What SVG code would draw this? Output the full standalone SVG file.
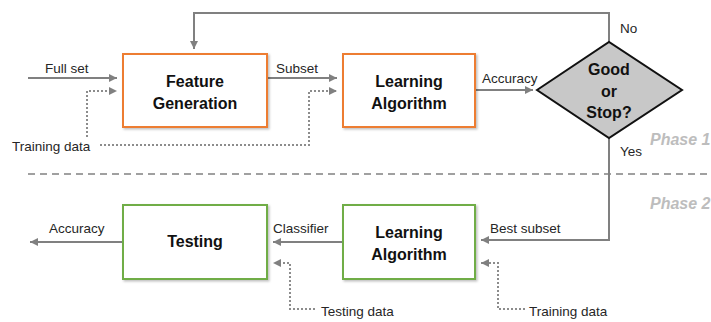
<svg xmlns="http://www.w3.org/2000/svg" width="711" height="322" viewBox="0 0 711 322">
<style>
text{font-family:"Liberation Sans",Arial,sans-serif;fill:#262626}
.lbl{font-size:13.5px}
.b{font-size:16px;font-weight:bold;fill:#111;text-anchor:middle}
.ph{font-size:16px;font-weight:bold;font-style:italic;fill:#bdbdbd}
.orange{fill:#fff;stroke:#ED7D31;stroke-width:2}
.green{fill:#fff;stroke:#70AD47;stroke-width:2}
.ln{fill:none;stroke:#808080;stroke-width:2}
.dot{fill:none;stroke:#8c8c8c;stroke-width:2;stroke-dasharray:2 2}
</style>
<defs>
<marker id="ah" viewBox="0 0 8 8" refX="8" refY="4" markerWidth="4" markerHeight="4" orient="auto" markerUnits="strokeWidth">
<path d="M0,0 L8,4 L0,8 Z" fill="#808080"/>
</marker>
<filter id="sh" x="-10%" y="-10%" width="130%" height="130%">
<feDropShadow dx="1.5" dy="1.5" stdDeviation="1" flood-color="#000" flood-opacity="0.25"/>
</filter>
</defs>

<g id="phase-divider">
<line x1="28" y1="174" x2="711" y2="174" stroke="#a0a0a0" stroke-width="2" stroke-dasharray="7 5"/>
<text class="ph" x="650" y="145">Phase 1</text>
<text class="ph" x="650" y="209">Phase 2</text>
</g>

<g id="connectors">
<path class="ln" d="M28,78 H117" marker-end="url(#ah)"/>
<path class="dot" d="M87,137 V91 H117" marker-end="url(#ah)"/>
<path class="dot" d="M100,145 H309 V91 H337" marker-end="url(#ah)"/>
<path class="ln" d="M268,78 H337" marker-end="url(#ah)"/>
<path class="ln" d="M475,90 H533" marker-end="url(#ah)"/>
<path class="ln" d="M609,42 V13 H194 V49" marker-end="url(#ah)"/>
<path class="ln" d="M609,138 V240 H481" marker-end="url(#ah)"/>
<path class="ln" d="M343,242 H273" marker-end="url(#ah)"/>
<path class="ln" d="M123,242 H30" marker-end="url(#ah)"/>
<path class="dot" d="M315,309 H290 V263 H273" marker-end="url(#ah)"/>
<path class="dot" d="M525,309 H498 V263 H481" marker-end="url(#ah)"/>
<text class="lbl" x="45" y="73">Full set</text>
<text class="lbl" x="12" y="151">Training data</text>
<text class="lbl" x="276" y="73">Subset</text>
<text class="lbl" x="482" y="83">Accuracy</text>
<text class="lbl" x="620" y="33">No</text>
<text class="lbl" x="620" y="156">Yes</text>
<text class="lbl" x="490" y="233">Best subset</text>
<text class="lbl" x="273" y="233">Classifier</text>
<text class="lbl" x="49" y="233">Accuracy</text>
<text class="lbl" x="321" y="316">Testing data</text>
<text class="lbl" x="529" y="316">Training data</text>
</g>

<g id="feature-generation">
<rect class="orange" x="123" y="54" width="144" height="73" filter="url(#sh)"/>
<text class="b" x="195" y="87">Feature</text>
<text class="b" x="195" y="109">Generation</text>
</g>

<g id="learning-algorithm-1">
<rect class="orange" x="343" y="54" width="132" height="73" filter="url(#sh)"/>
<text class="b" x="409" y="87">Learning</text>
<text class="b" x="409" y="109">Algorithm</text>
</g>

<g id="decision">
<polygon points="537,90 609,42 682,90 609,138" fill="#c8c8c8" stroke="#111" stroke-width="2"/>
<text class="b" x="609" y="75">Good</text>
<text class="b" x="609" y="97">or</text>
<text class="b" x="609" y="118">Stop?</text>
</g>

<g id="testing">
<rect class="green" x="123" y="205" width="144" height="74" filter="url(#sh)"/>
<text class="b" x="195" y="247">Testing</text>
</g>

<g id="learning-algorithm-2">
<rect class="green" x="343" y="205" width="132" height="74" filter="url(#sh)"/>
<text class="b" x="409" y="238">Learning</text>
<text class="b" x="409" y="260">Algorithm</text>
</g>
</svg>
